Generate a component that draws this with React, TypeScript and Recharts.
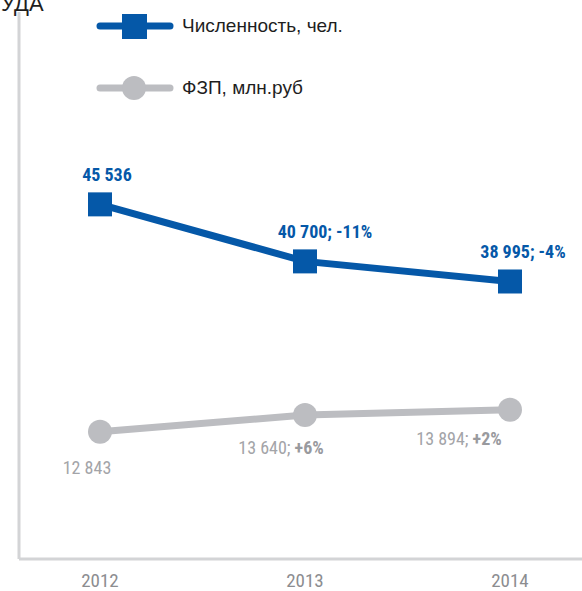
import { LineChart, Line, XAxis, YAxis, Legend, LabelList } from "recharts";

const years = ["2012", "2013", "2014"];
const headcount = [45536, 40700, 38995];
const headcountChange = ["", "-11%", "-4%"];
const payroll = [12843, 13640, 13894];
const payrollChange = ["", "+6%", "+2%"];

const data = years.map((year, i) => ({ year, headcount: headcount[i], payroll: payroll[i] }));

const BLUE = "#0558a8";
const GREY = "#bcbdc1";
const AXIS = "#d3d4d6";
const FONT = "'Liberation Sans Narrow', 'Roboto Condensed', Roboto, 'Liberation Sans', sans-serif";

// label nudges, the source labels aren't centered on the points
const blueDx = [7, 20, 13];
const greyDx = [-13, -24, -51];
const greyDy = [42, 39, 35];

const fmt = (n: number) => String(n).replace(/\B(?=(\d{3})+(?!\d))/g, " ");

const SquareDot = (props: any) => {
  const { cx, cy } = props;
  return <rect x={cx - 12} y={cy - 12} width={24} height={24} fill={BLUE} />;
};

const BlueLabel = (props: any) => {
  const { x, y, index } = props;
  const change = headcountChange[index];
  return (
    <text x={x + blueDx[index]} y={y - 23} textAnchor="middle" fill={BLUE} fontSize={18} fontWeight="bold" fontFamily={FONT}>
      {fmt(headcount[index]) + (change ? `; ${change}` : "")}
    </text>
  );
};

const GreyLabel = (props: any) => {
  const { x, y, index } = props;
  const change = payrollChange[index];
  return (
    <text x={x + greyDx[index]} y={y + greyDy[index]} textAnchor="middle" fill="#a3a4a8" fontSize={18} fontFamily={FONT}>
      {fmt(payroll[index]) + (change ? "; " : "")}
      {change ? <tspan fontWeight="bold" fill="#999a9e">{change}</tspan> : null}
    </text>
  );
};

const legendItems = [
  { label: "Численность, чел.", color: BLUE, shape: "square" },
  { label: "ФЗП, млн.руб", color: GREY, shape: "circle" },
];

const LegendContent = () => (
  <div style={{ fontFamily: "'Liberation Sans', Arial, sans-serif" }}>
    {legendItems.map((item, i) => (
      <div key={item.label} style={{ display: "flex", alignItems: "center", height: 26, marginBottom: i === 0 ? 36 : 0 }}>
        <svg width={78} height={26}>
          <line x1={4} y1={13} x2={74} y2={13} stroke={item.color} strokeWidth={7} strokeLinecap="round" />
          {item.shape === "square" ? (
            <rect x={26} y={1} width={25} height={25} fill={item.color} />
          ) : (
            <circle cx={38} cy={13} r={12} fill={item.color} />
          )}
        </svg>
        <span style={{ marginLeft: 8, fontSize: 19, color: "#1e1e1e" }}>{item.label}</span>
      </div>
    ))}
  </div>
);

export default function App() {
  return (
    <div style={{ position: "absolute", left: 0, top: 0, width: 582, height: 591, background: "#fff", overflow: "hidden" }}>
      <div style={{ position: "absolute", left: 1, top: -9, fontSize: 22, color: "#1e1e1e", fontFamily: "'Liberation Sans', Arial, sans-serif" }}>
        УДА
      </div>
      <LineChart width={582} height={591} data={data} margin={{ top: 12, right: 0, bottom: 0, left: 16 }}>
        <XAxis
          dataKey="year"
          height={32}
          padding={{ left: 81, right: 72 }}
          axisLine={{ stroke: AXIS, strokeWidth: 3 }}
          tickLine={false}
          tickMargin={9}
          tick={{ fill: "#8c8d90", fontSize: 19, fontFamily: FONT }}
        />
        <YAxis
          yAxisId="blue"
          width={3}
          domain={[15460, 61850]}
          tick={false}
          tickLine={false}
          axisLine={{ stroke: AXIS, strokeWidth: 3 }}
        />
        <YAxis yAxisId="grey" hide domain={[6795, 32795]} />
        <Legend layout="vertical" align="center" verticalAlign="middle" wrapperStyle={{ top: 13, left: 96, width: 320 }} content={<LegendContent />} />
        <Line
          yAxisId="grey"
          dataKey="payroll"
          stroke={GREY}
          strokeWidth={7}
          dot={{ r: 12, fill: GREY, stroke: "none" }}
          activeDot={false}
          isAnimationActive={false}
        >
          <LabelList dataKey="payroll" content={<GreyLabel />} />
        </Line>
        <Line
          yAxisId="blue"
          dataKey="headcount"
          stroke={BLUE}
          strokeWidth={7}
          dot={<SquareDot />}
          activeDot={false}
          isAnimationActive={false}
        >
          <LabelList dataKey="headcount" content={<BlueLabel />} />
        </Line>
      </LineChart>
    </div>
  );
}
